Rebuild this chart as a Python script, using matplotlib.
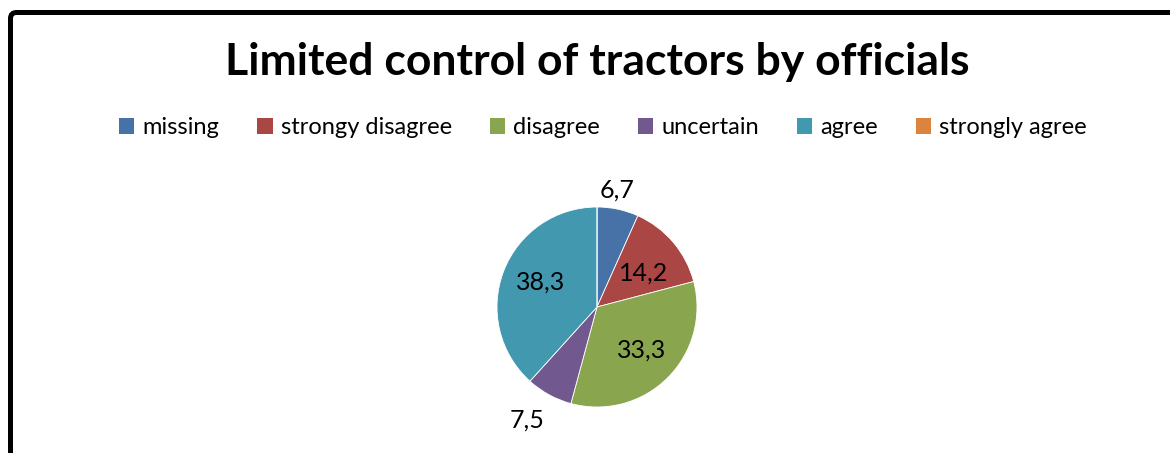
import numpy as np
import matplotlib
matplotlib.use("Agg")
import matplotlib.pyplot as plt
import matplotlib.patches as mpatches
from matplotlib.transforms import IdentityTransform

plt.rcParams['font.family'] = ['Lato', 'DejaVu Sans']

title = "Limited control of tractors by officials"
categories = ["missing", "strongy disagree", "disagree", "uncertain", "agree", "strongly agree"]
values = [6.7, 14.2, 33.3, 7.5, 38.3, 0.0]
value_labels = ["6,7", "14,2", "33,3", "7,5", "38,3", ""]

colors = ["#4672A8", "#AA4644", "#89A54E", "#71588F", "#4198AF", "#DB843D"]
# label placement: radius as fraction of pie radius, small angular nudge (deg)
label_radius = [1.19, 0.58, 0.62, 1.33, 0.62, 1.2]
label_nudge = [2.4, -4.4, 1.5, -3.0, -2.7, 0.0]

W, H = 1170, 453
fig = plt.figure(figsize=(W / 100, H / 100), dpi=100)

# frame (only top and left visible in the crop)
frame = mpatches.FancyBboxPatch((10.5, -30), 1300, H - 12.5 + 30,
                                boxstyle="round,pad=0,rounding_size=6",
                                transform=IdentityTransform(),
                                facecolor="none", edgecolor="black", linewidth=3.6)
fig.patches.append(frame)

fig.text(597 / W, 1 - 62 / H, title, ha="center", va="center",
         fontsize=32, fontweight="bold")

r = 100
cx, cy = 597, 307
ax = fig.add_axes([(cx - r) / W, (H - cy - r) / H, 2 * r / W, 2 * r / H])
wedges, _ = ax.pie(values, colors=colors, startangle=90, counterclock=False,
                   radius=1, wedgeprops=dict(linewidth=0.6, edgecolor="white"))
ax.set_xlim(-1, 1)
ax.set_ylim(-1, 1)
ax.set_aspect("equal")
ax.axis("off")

for w, lab, lr, nd in zip(wedges, value_labels, label_radius, label_nudge):
    if not lab:
        continue
    ang = np.deg2rad((w.theta1 + w.theta2) / 2 + nd)
    ax.text(lr * np.cos(ang), lr * np.sin(ang), lab, ha="center", va="center",
            fontsize=18, color="black")

handles = [mpatches.Patch(facecolor=c, label=n) for c, n in zip(colors, categories)]
fig.legend(handles=handles, loc="center", bbox_to_anchor=(603 / W, 1 - 128 / H),
           ncol=6, frameon=False, fontsize=17, handlelength=0.65, handleheight=0.65,
           handletextpad=0.35, columnspacing=1.6, borderaxespad=0)

fig.savefig("out.png", dpi=100)
